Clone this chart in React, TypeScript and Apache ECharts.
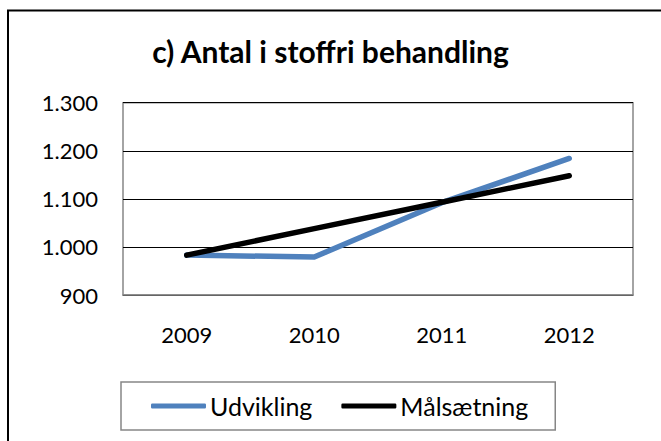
import React, { useEffect, useRef } from "react";
import * as echarts from "echarts";

const categories = ["2009", "2010", "2011", "2012"];
const udvikling = [983, 979, 1092, 1184];
const maalsaetning = [983, 1038, 1093, 1148];
const seriesNames = ["Udvikling", "Målsætning"];
const titleText = "c) Antal i stoffri behandling";

const fmt = (v: number) => {
  const s = String(Math.round(v));
  return s.length > 3 ? s.slice(0, s.length - 3) + "." + s.slice(s.length - 3) : s;
};

export default function App() {
  const ref = useRef<HTMLDivElement>(null);
  useEffect(() => {
    if (!ref.current) return;
    const chart = echarts.init(ref.current, null, { renderer: "svg" });
    const font = "Lato";
    chart.setOption({
      animation: false,
      backgroundColor: "#ffffff",
      title: {
        text: titleText,
        left: "center",
        top: 36,
        padding: 0,
        textStyle: { fontFamily: font, fontSize: 30, fontWeight: "bold", color: "#000" },
      },
      graphic: [
        {
          type: "rect",
          shape: { x: 8, y: 10.5, width: 700, height: 500 },
          style: { fill: "none", stroke: "#000", lineWidth: 2 },
          silent: true,
        },
      ],
      legend: {
        data: seriesNames,
        left: 121,
        top: 382,
        orient: "horizontal",
        padding: [11, 27, 11, 30],
        itemGap: 29,
        itemWidth: 55,
        itemHeight: 5,
        icon: "roundRect",
        borderColor: "#868686",
        borderWidth: 1.5,
        textStyle: { fontFamily: font, fontSize: 25, color: "#000", lineHeight: 26, padding: [0, 0, 0, -1] },
      },
      grid: {
        left: 123,
        top: 102.7,
        right: 28,
        bottom: 146,
        show: true,
        borderColor: "#868686",
        borderWidth: 1.5,
        containLabel: false,
      },
      xAxis: {
        type: "category",
        data: categories,
        boundaryGap: true,
        axisLine: { show: true, lineStyle: { color: "#868686", width: 1.5 } },
        axisTick: { show: false },
        axisLabel: { fontFamily: font, fontSize: 22, color: "#000", margin: 28 },
        splitLine: { show: false },
      },
      yAxis: {
        type: "value",
        min: 900,
        max: 1300,
        interval: 100,
        axisLine: { show: false },
        axisTick: { show: false },
        axisLabel: { fontFamily: font, fontSize: 22, color: "#000", margin: 25, formatter: fmt },
        splitLine: { show: true, lineStyle: { color: "#000", width: 1 } },
      },
      series: [
        {
          name: seriesNames[0],
          type: "line",
          data: udvikling,
          showSymbol: false,
          symbol: "none",
          lineStyle: { color: "#4F81BD", width: 5.5, cap: "round", join: "round" },
          itemStyle: { color: "#4F81BD" },
        },
        {
          name: seriesNames[1],
          type: "line",
          data: maalsaetning,
          showSymbol: false,
          symbol: "none",
          lineStyle: { color: "#000000", width: 5.5, cap: "round", join: "round" },
          itemStyle: { color: "#000000" },
        },
      ],
    });
    return () => chart.dispose();
  }, []);
  return (
    <div
      ref={ref}
      style={{ position: "fixed", left: 0, top: 0, width: 661, height: 441 }}
    />
  );
}
